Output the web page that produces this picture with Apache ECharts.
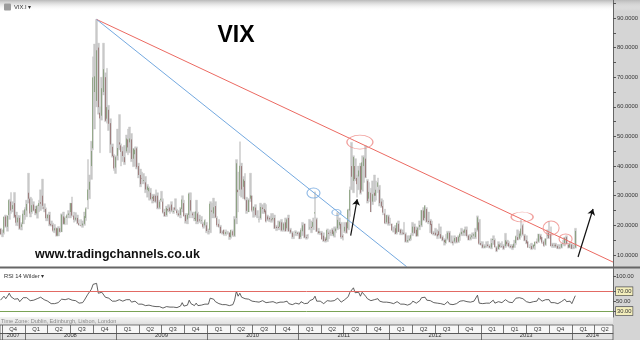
<!DOCTYPE html>
<html><head><meta charset="utf-8">
<script src="https://cdn.jsdelivr.net/npm/echarts@6/dist/echarts.min.js"></script>
<style>html,body{margin:0;padding:0;background:#fff}#c{width:640px;height:340px}</style>
</head><body><div id="c"></div><script>
// ---- weekly candles [open, high, low, close] ----
const firstWeek = '2007-09-25';
const ohlc2007 = [[18.8,19.0,16.8,17.0],[17.0,18.5,16.1,17.0],[17.5,22.9,17.0,22.9],[23.0,23.5,19.3,19.6],[19.5,23.3,18.0,23.2],[23.5,28.8,22.0,28.5],[28.0,31.1,24.0,25.0],[25.5,28.0,24.5,26.8],[27.5,31.1,22.5,22.9],[23.5,24.5,19.9,20.9],[21.0,23.3,19.8,22.6],[22.5,23.3,18.6,18.9],[19.5,20.9,18.4,20.3],[20.5,25.0,20.5,23.9]];
const ohlc2008 = [[23.5,26.0,22.0,25.4],[25.0,28.5,22.9,27.2],[31.0,37.6,27.5,29.0],[29.0,29.5,22.8,24.0],[24.5,29.0,24.0,26.8],[27.0,28.0,24.8,25.0],[25.5,26.5,23.5,24.1],[24.0,26.8,22.4,26.5],[26.5,28.5,24.5,27.5],[27.8,32.0,25.0,27.3],[30.0,35.6,25.5,26.6],[26.0,27.3,24.5,25.7],[25.5,25.9,21.5,22.4],[22.4,23.8,21.5,23.5],[23.5,24.5,19.8,20.3],[20.5,21.5,19.7,20.0],[20.2,20.8,17.8,18.2],[18.3,20.3,17.5,19.0],[19.0,19.2,16.3,16.5],[16.5,19.6,16.4,19.0],[19.0,19.1,17.6,17.8],[17.8,23.9,17.8,23.6],[23.0,24.5,20.3,20.5],[20.5,23.0,20.2,22.6],[22.5,23.8,20.3,23.4],[23.5,25.0,22.5,24.0],[24.5,27.5,22.5,27.5],[27.5,29.6,23.0,23.3],[23.3,24.5,21.0,21.9],[21.9,24.3,21.4,22.6],[22.5,23.5,20.5,20.7],[20.7,21.9,19.9,20.1],[20.0,22.0,19.7,19.8],[20.0,21.5,19.3,20.6],[20.5,24.5,20.0,23.1],[22.5,26.0,21.6,25.7],[28.5,42.2,25.5,32.1],[32.0,37.0,29.0,34.7],[40.0,48.4,35.5,45.1],[46.0,76.9,45.5,69.95],[65.0,81.2,52.5,70.3],[62.0,89.5,60.0,79.1],[80.0,81.5,57.5,59.9],[58.0,60.0,44.5,56.1],[57.0,70.0,55.5,66.3],[65.0,81.5,64.0,72.7],[70.0,71.5,55.0,55.3],[56.0,73.0,54.5,59.9],[59.0,60.5,52.0,54.3],[54.5,56.0,44.5,47.3],[46.5,47.5,43.0,43.4],[43.5,44.0,38.5,39.2]];
const ohlc2009 = [[39.5,43.5,37.5,43.0],[43.5,52.5,42.0,46.1],[48.0,57.4,45.5,47.3],[47.0,47.5,40.0,44.8],[45.0,46.5,41.5,43.4],[43.0,47.0,40.5,41.3],[45.0,50.5,44.5,49.3],[49.0,52.5,43.8,46.3],[48.0,53.2,44.5,49.3],[49.0,51.0,41.5,42.4],[42.5,46.0,39.8,45.9],[44.0,46.5,40.0,45.5],[46.0,46.5,39.0,39.6],[40.0,41.0,36.0,37.0],[37.0,39.0,33.0,33.9],[36.0,38.0,34.0,35.8],[35.0,37.5,34.0,35.3],[34.5,36.5,31.0,32.1],[32.0,33.8,29.5,33.1],[31.5,33.0,28.5,32.6],[31.0,32.5,28.5,28.9],[29.0,30.5,27.5,29.6],[30.0,30.5,27.8,28.2],[30.0,32.0,27.5,28.0],[30.0,31.0,25.5,25.9],[26.0,28.5,25.5,27.95],[28.5,31.5,28.0,29.0],[28.0,29.0,24.0,24.3],[24.5,25.5,23.0,23.1],[23.5,26.5,23.0,25.9],[25.5,27.0,24.5,25.0],[26.0,26.5,24.0,24.8],[27.0,28.0,24.5,25.0],[24.5,26.0,24.0,24.8],[26.0,29.0,25.0,25.3],[25.0,25.5,23.5,24.1],[24.0,25.0,23.0,23.4],[23.5,26.0,22.5,25.6],[25.5,30.0,24.5,28.7],[27.5,28.5,23.0,23.1],[23.5,24.0,20.7,21.4],[22.0,24.0,20.5,23.6],[23.5,31.0,22.5,30.7],[28.5,31.0,24.5,25.0],[24.0,24.5,22.5,23.4],[22.5,24.5,21.5,22.2],[21.5,28.5,20.5,24.7],[24.0,24.5,20.5,21.25],[22.0,23.5,21.0,21.6],[21.5,23.0,20.5,21.7],[20.5,21.0,19.0,19.5],[20.0,22.0,19.5,21.7]];
const ohlc2010 = [[20.0,21.0,17.5,18.1],[18.0,18.8,17.0,17.9],[18.5,28.0,17.5,27.3],[25.0,27.5,22.5,24.6],[24.0,29.2,22.5,26.1],[26.5,28.0,22.5,22.7],[22.5,23.0,19.5,20.0],[20.5,22.0,19.2,19.5],[19.5,20.0,17.3,17.4],[17.8,18.2,17.0,17.6],[18.5,18.5,16.5,16.97],[17.0,18.5,16.5,17.8],[17.5,18.0,17.0,17.5],[17.5,17.6,15.2,16.1],[16.0,18.5,15.6,18.4],[18.0,18.5,16.2,16.6],[16.5,23.0,16.2,22.05],[22.5,42.2,20.5,40.95],[32.0,38.0,24.5,31.2],[32.0,48.2,30.0,40.1],[40.0,41.0,29.5,32.1],[33.0,36.5,29.0,35.5],[35.0,37.5,28.5,28.8],[28.5,29.5,24.0,24.9],[24.5,29.0,24.5,28.5],[29.0,37.6,28.0,30.1],[30.0,30.0,24.5,24.98],[25.0,26.3,22.7,26.25],[26.0,27.0,23.0,23.5],[23.5,25.0,22.5,23.5],[22.0,23.0,21.0,22.1],[22.5,27.5,22.0,26.2],[26.0,27.0,24.0,25.5],[25.5,27.5,24.0,24.45],[25.0,27.0,21.0,21.3],[23.0,23.5,21.5,21.99],[22.5,23.0,21.2,22.0],[22.0,24.0,21.0,21.7],[22.0,24.0,21.5,22.5],[22.5,23.5,18.9,18.96],[19.5,20.0,18.2,19.1],[19.5,21.5,18.5,19.1],[19.5,21.5,18.5,21.2],[21.0,22.0,18.0,18.3],[18.5,21.0,18.0,20.6],[21.0,22.5,18.0,18.0],[19.0,22.5,18.5,22.0],[22.5,23.5,17.9,18.0],[18.5,19.0,17.2,17.6],[17.5,17.9,15.5,16.1],[16.5,17.0,15.5,16.5],[17.5,18.2,16.5,17.75]];
const ohlc2011 = [[17.5,17.8,16.5,17.1],[17.5,17.8,15.4,15.5],[16.0,19.0,15.5,18.5],[18.0,21.0,16.5,20.0],[20.5,20.5,15.7,15.9],[16.0,16.8,15.3,15.7],[16.5,17.0,15.6,16.4],[19.0,22.0,18.5,19.2],[19.5,21.5,17.5,19.1],[19.5,22.5,18.5,21.1],[24.0,31.3,22.5,24.4],[22.0,22.5,17.9,17.9],[18.0,19.0,17.0,17.4],[17.5,18.0,16.8,17.9],[17.5,18.0,15.2,15.3],[16.5,17.5,14.5,14.7],[15.5,16.0,14.3,14.75],[15.0,18.8,14.5,18.4],[17.5,18.0,15.5,17.1],[17.5,18.5,16.5,17.4],[18.5,19.0,16.5,17.1],[16.5,19.5,16.0,17.95],[18.0,19.5,17.5,18.9],[19.0,24.3,18.5,21.85],[20.0,22.5,18.8,21.1],[20.5,21.0,15.5,16.0],[16.5,17.0,15.0,15.95],[18.0,21.0,17.5,19.5],[21.0,21.0,17.3,17.5],[19.0,25.5,18.5,25.25],[25.0,33.0,23.0,32.0],[40.0,48.0,32.0,36.4],[35.0,43.5,31.0,43.05],[40.0,42.5,35.0,35.6],[36.0,37.0,29.5,33.9],[36.5,40.0,32.0,38.5],[40.0,41.0,30.5,30.98],[32.0,43.5,31.5,41.25],[40.0,43.5,34.5,42.96],[42.5,46.9,36.0,36.2],[35.0,35.5,27.5,28.2],[29.0,34.5,28.0,31.3],[31.0,32.5,24.5,24.5],[28.0,35.0,27.0,30.5],[31.0,37.0,28.0,30.0],[30.0,35.0,28.5,32.0],[33.0,36.0,31.0,34.5],[32.0,33.5,26.5,27.5],[28.0,29.0,26.0,26.4],[26.5,28.5,23.5,24.3],[24.0,25.5,20.5,20.7],[21.0,23.5,20.5,23.4]];
const ohlc2012 = [[23.0,23.5,20.0,20.6],[21.0,22.5,20.0,20.9],[20.5,20.5,18.2,18.3],[18.5,19.5,17.7,18.5],[19.0,20.0,17.0,17.1],[17.5,20.9,17.0,20.8],[20.5,21.5,17.8,17.8],[18.5,18.8,16.8,17.3],[17.5,18.5,16.8,17.3],[17.5,21.0,17.0,17.1],[17.0,17.5,14.3,14.5],[14.5,16.5,14.2,15.0],[15.0,16.5,14.7,15.5],[15.5,17.2,15.0,16.7],[17.5,21.0,16.5,19.55],[19.5,20.5,17.2,17.4],[18.5,19.5,16.3,16.3],[16.5,19.3,16.3,19.2],[19.5,21.5,18.5,20.1],[20.0,25.1,19.5,25.1],[25.0,26.0,21.5,21.8],[22.5,26.7,22.0,26.7],[25.5,26.0,21.0,21.2],[21.5,24.5,20.5,21.1],[21.5,22.0,17.5,20.1],[20.5,21.5,17.0,17.1],[17.5,18.0,16.7,17.1],[17.5,19.0,16.5,16.7],[17.0,18.5,15.5,16.3],[18.0,20.5,16.5,16.7],[17.0,19.5,15.6,15.6],[16.0,16.5,14.7,15.0],[15.0,15.5,13.3,14.3],[14.0,17.0,13.9,15.2],[15.5,18.0,15.0,17.5],[17.5,18.0,14.3,14.4],[14.5,16.5,14.0,14.5],[14.5,15.0,13.3,13.98],[14.5,16.5,14.0,15.7],[16.0,16.0,14.0,14.3],[14.5,16.5,14.2,16.1],[16.0,17.5,14.9,17.1],[17.0,19.0,16.5,17.8],[18.0,18.5,16.5,17.6],[17.5,19.5,16.5,18.6],[18.5,19.5,16.0,16.4],[16.5,16.8,15.0,15.1],[15.5,17.0,15.0,15.9],[16.0,17.5,15.5,16.6],[16.5,17.5,15.5,17.0],[16.0,19.0,15.5,17.8],[18.5,23.2,18.0,22.7],[21.0,22.0,13.5,13.8]];
const ohlc2013 = [[14.0,14.5,13.2,13.4],[13.5,14.5,12.3,12.5],[12.5,13.5,12.3,12.9],[13.0,14.5,12.5,12.9],[13.5,14.6,12.8,13.0],[13.0,13.5,12.3,12.5],[12.5,15.5,12.0,14.0],[15.0,16.5,13.5,15.4],[15.0,15.5,12.6,12.6],[12.5,12.9,11.1,11.3],[12.0,14.5,11.8,13.6],[13.5,14.0,12.5,12.7],[13.0,14.5,12.5,12.8],[13.0,13.5,11.8,12.1],[13.0,17.3,12.5,14.97],[14.5,15.0,13.0,13.6],[14.0,14.5,12.6,12.9],[13.0,13.5,12.3,12.6],[13.0,13.5,11.8,12.45],[12.5,15.0,12.5,13.8],[14.0,16.5,13.5,16.3],[16.0,18.5,15.0,15.1],[15.5,18.0,15.2,17.2],[16.5,21.9,16.0,18.9],[20.0,20.5,16.5,16.9],[16.5,17.0,14.7,14.9],[15.0,16.5,13.7,14.0],[14.5,14.5,12.5,12.5],[12.5,13.5,12.3,12.7],[13.0,14.0,11.8,11.98],[12.5,13.5,12.0,13.4],[13.0,14.5,11.8,14.4],[14.5,15.5,13.8,14.0],[14.5,17.1,14.2,17.0],[16.5,17.0,15.0,15.4],[16.0,16.0,13.8,14.2],[14.5,14.9,12.8,13.1],[13.5,15.5,13.2,15.5],[16.5,18.5,15.5,16.7],[17.5,21.3,15.5,15.7],[17.0,19.5,12.9,13.0],[13.5,14.0,12.5,13.1],[13.0,14.0,12.5,13.2],[13.5,14.0,12.5,12.9],[13.0,13.5,12.1,12.2],[12.5,13.5,12.0,12.3],[12.5,13.8,12.3,13.7],[14.0,15.0,13.5,13.8],[14.0,16.0,13.0,15.8],[16.0,16.5,13.7,13.8],[13.5,13.5,12.3,12.5],[12.5,14.2,12.5,13.8]];
const ohlc2014 = [[13.5,13.8,12.0,12.1],[12.5,13.5,12.0,12.4],[12.5,19.0,12.3,18.1]];

// ---- RSI 14 (Wilder), weekly ----
const rsi2007 = [52,52,60,55,60,66,59,61,54,51,55,49,52,57];
const rsi2008 = [55,57,58,51,54,52,51,55,57,58,56,53,49,50,46,45,43,45,42,47,45,54,50,53,54,55,58,52,50,51,47,46,45,47,52,56,64,66,74,84,84,86,66,63,68,70,58,61,56,52,50,47];
const rsi2009 = [50,52,53,51,50,49,53,51,53,48,51,50,46,44,42,44,43,41,42,42,39,40,39,39,37,39,41,36,35,39,38,38,38,38,39,37,37,40,47,40,38,42,52,45,43,41,46,41,42,42,39,44];
const rsi2010 = [44,44,56,52,54,49,46,45,42,43,42,43,43,41,45,43,52,70,60,66,58,61,55,51,54,56,50,52,49,49,48,52,51,50,47,48,48,48,49,45,46,46,48,45,48,45,50,45,45,43,44,46];
const rsi2011 = [46,44,49,51,45,45,46,51,51,54,60,50,49,50,46,45,45,51,49,50,49,51,52,56,55,48,48,53,50,59,68,72,77,67,65,68,60,68,68,60,55,56,51,54,53,54,55,50,49,48,46,48];
const rsi2012 = [47,47,45,45,44,49,45,44,44,44,41,42,43,45,50,47,46,50,51,57,53,58,52,52,51,47,47,47,46,47,45,44,43,45,49,44,44,43,47,45,48,50,51,51,53,49,47,48,50,50,52,62,46];
const rsi2013 = [46,45,46,46,47,46,50,52,46,43,49,47,47,46,53,50,48,48,47,51,56,54,57,60,55,51,49,46,47,45,49,51,50,56,53,50,48,53,55,53,47,47,47,47,45,46,49,50,54,49,46,50];
const rsi2014 = [45,46,61];

// ---- axis labels ----
const quarterLabels = ['Q4','Q1','Q2','Q3','Q4','Q1','Q2','Q3','Q4','Q1','Q2','Q3','Q4','Q1','Q2','Q3','Q4','Q1','Q2','Q3','Q4','Q1','Q1','Q3','Q4','Q1','Q2'];
const quarterStarts = ['2007-10-01','2008-01-01','2008-04-01','2008-07-01','2008-10-01','2009-01-01','2009-04-01','2009-07-01','2009-10-01','2010-01-01','2010-04-01','2010-07-01','2010-10-01','2011-01-01','2011-04-01','2011-07-01','2011-10-01','2012-01-01','2012-04-01','2012-07-01','2012-10-01','2013-01-01','2013-04-01','2013-07-01','2013-10-01','2014-01-01','2014-04-01'];
const quarterMids = ['2007-11-15','2008-02-15','2008-05-16','2008-08-16','2008-11-15','2009-02-15','2009-05-16','2009-08-16','2009-11-15','2010-02-15','2010-05-16','2010-08-16','2010-11-15','2011-02-15','2011-05-16','2011-08-16','2011-11-15','2012-02-15','2012-05-16','2012-08-16','2012-11-15','2013-02-15','2013-05-16','2013-08-16','2013-11-15','2014-02-15','2014-05-12'];
const yearLabels = ['2007','2008','2009','2010','2011','2012','2013','2014'];
const yearStarts = ['2007-10-01','2008-01-01','2009-01-01','2010-01-01','2011-01-01','2012-01-01','2013-01-01','2014-01-01'];
const yearMids = ['2007-11-15','2008-07-01','2009-07-01','2010-07-01','2011-07-01','2012-07-01','2013-07-01','2014-03-24'];
const priceLabels = [10,20,30,40,50,60,70,80,90];
const priceTicks = [10,15,20,25,30,35,40,45,50,55,60,65,70,75,80,85,90,95];
const rsiLabels = [100,70,50,30];
const rsiBoxed = [70,30];
const rsiLevels = [70,30];

// ---- drawn annotations (date, value) ----
const trendLines = [
  {from:['2008-10-14',89.5], to:['2014-06-14',7.6], color:'#ec6a62'},
  {from:['2008-10-14',89.5], to:['2012-03-09',6.05], color:'#74a9e0'}
];
const arrows = [
  {from:['2011-07-29',16.5], to:['2011-08-24',28.8]},
  {from:['2014-01-25',9.3], to:['2014-03-26',25.5]}
];
const ellipses = [
  {at:['2011-09-04',48.1], w:26, h:14, color:'#ee8a86'},
  {at:['2013-06-15',22.8], w:22, h:10, color:'#ee8a86'},
  {at:['2013-10-09',19.1], w:16, h:14, color:'#ee8a86'},
  {at:['2013-12-06',15.4], w:13, h:10, color:'#ee8a86'},
  {at:['2011-03-02',30.9], w:13, h:10, color:'#74a9e0'},
  {at:['2011-06-02',24.35], w:9, h:6, color:'#74a9e0'}
];

const DAY = 864e5;
// dates are turned into day numbers; the x axes are numeric day scales
const dnum = s => Date.parse(s + 'T00:00:00Z') / DAY;
const xMin = dnum('2007-09-23'), xMax = dnum('2014-06-14');
const allOhlc = [].concat(ohlc2007, ohlc2008, ohlc2009, ohlc2010, ohlc2011, ohlc2012, ohlc2013, ohlc2014);
const allRsi = [].concat(rsi2007, rsi2008, rsi2009, rsi2010, rsi2011, rsi2012, rsi2013, rsi2014);
const d0 = dnum(firstWeek);
const weekDays = allOhlc.map((_, i) => d0 + i * 7);

const rangeData = allOhlc.map((d, i) => [weekDays[i], d[2], d[1], d[2], d[1]]);
const bodyData = allOhlc.map((d, i) => [weekDays[i], d[0], d[3], Math.min(d[0], d[3]), Math.max(d[0], d[3])]);
const rsiData = allRsi.map((v, i) => [weekDays[i], v]);

const qMid = quarterMids.map(dnum), yMid = yearMids.map(dnum);
const FONT = 'Liberation Sans';

const lineMarks = trendLines.map(l => [
  {coord:[dnum(l.from[0]), l.from[1]], symbol:'none', lineStyle:{color:l.color, width:1, type:'solid'}},
  {coord:[dnum(l.to[0]), l.to[1]], symbol:'none'}
]).concat(arrows.map(a => [
  {coord:[dnum(a.from[0]), a.from[1]], symbol:'none', lineStyle:{color:'#111', width:1.2, type:'solid'}},
  {coord:[dnum(a.to[0]), a.to[1]], symbol:'arrow', symbolSize:6}
]));

const chart = echarts.init(document.getElementById('c'), null, {renderer:'canvas'});
const rowAxis = (gi, tickVals, labelVals, fmt, h) => ({
  type:'value', gridIndex:gi, min:xMin, max:xMax, position:'bottom', scale:true,
  axisLine:{show:true, lineStyle:{color:'#555', width:0.8}},
  axisTick:{show:true, inside:true, length:h, customValues:tickVals.map(dnum), lineStyle:{color:'#555', width:0.8}},
  axisLabel:{show:true, inside:true, margin:1.5, customValues:labelVals, formatter:fmt, fontSize:5.8, color:'#333', fontFamily:FONT, hideOverlap:false, showMinLabel:true, showMaxLabel:true},
  splitLine:{show:false}
});

chart.setOption({
  animation:false,
  backgroundColor:'#ffffff',
  grid:[
    {left:0, width:613, top:0.2, height:266.6, outerBoundsMode:'none'},
    {left:0, width:613, top:268.5, height:48.5, outerBoundsMode:'none'},
    {left:0, width:613, top:325, height:8.5, outerBoundsMode:'none', show:true, backgroundColor:'#f7f7f7', borderColor:'#555', borderWidth:0.8},
    {left:0, width:613, top:333.5, height:6.5, outerBoundsMode:'none', show:true, backgroundColor:'#e2e2e2', borderColor:'#555', borderWidth:0.8}
  ],
  xAxis:[
    {type:'value', gridIndex:0, min:xMin, max:xMax, scale:true, show:false},
    {type:'value', gridIndex:1, min:xMin, max:xMax, scale:true, show:false},
    rowAxis(2, quarterStarts, qMid, v => quarterLabels[qMid.indexOf(v)] || '', 8.5),
    rowAxis(3, yearStarts, yMid, v => yearLabels[yMid.indexOf(v)] || '', 6.5)
  ],
  yAxis:[
    {type:'value', gridIndex:0, min:6, max:96, position:'right',
     axisLine:{show:true, lineStyle:{color:'#666', width:1}},
     axisTick:{show:true, length:3, customValues:priceTicks, lineStyle:{color:'#555'}},
     axisLabel:{show:true, margin:4, customValues:priceLabels, formatter:v => v.toFixed(4), fontSize:5.8, color:'#333', fontFamily:FONT},
     splitLine:{show:false}},
    {type:'value', gridIndex:1, min:18, max:116, position:'right',
     axisLine:{show:true, lineStyle:{color:'#666', width:1}},
     axisTick:{show:true, length:3, customValues:rsiLabels, lineStyle:{color:'#555'}},
     axisLabel:{show:true, margin:3, customValues:rsiLabels, fontSize:5.8, color:'#333', fontFamily:FONT,
       formatter:v => rsiBoxed.indexOf(v) >= 0 ? '{b|' + v.toFixed(2) + '}' : v.toFixed(2),
       rich:{b:{backgroundColor:'#f3eebc', borderColor:'#555', borderWidth:0.7, padding:[1.5,1,0.5,1], fontSize:5.8, color:'#333', fontFamily:FONT}}},
     splitLine:{show:false}},
    {type:'value', gridIndex:2, show:false},
    {type:'value', gridIndex:3, show:false}
  ],
  series:[
    {type:'candlestick', name:'range', xAxisIndex:0, yAxisIndex:0, data:rangeData, encode:{x:0, y:[1,2,3,4]},
     barWidth:2.2, silent:true, z:2,
     itemStyle:{color:'#c8c8c8', color0:'#c8c8c8', borderColor:'#c8c8c8', borderColor0:'#c8c8c8', borderWidth:0.4}},
    {type:'candlestick', name:'VIX.I', xAxisIndex:0, yAxisIndex:0, data:bodyData, encode:{x:0, y:[1,2,3,4]},
     barWidth:1.3, silent:true, z:3,
     itemStyle:{color:'#4f9228', color0:'#8a1414', borderColor:'#336619', borderColor0:'#5a0c0c', borderWidth:0.4}},
    {type:'scatter', name:'notes', xAxisIndex:0, yAxisIndex:0, z:5, silent:true,
     data:ellipses.map(e => ({value:[dnum(e.at[0]), e.at[1]], symbolSize:[e.w, e.h],
       itemStyle:{color:'rgba(0,0,0,0)', borderColor:e.color, borderWidth:1}})),
     symbol:'circle',
     markLine:{silent:true, animation:false, symbol:['none','none'], label:{show:false}, data:lineMarks}},
    {type:'line', name:'RSI', xAxisIndex:1, yAxisIndex:1, data:rsiData, symbol:'none', z:3,
     lineStyle:{color:'#3a3a3a', width:0.8},
     markLine:{silent:true, animation:false, symbol:['none','none'], label:{show:false},
       data:rsiLevels.map((v, i) => ({yAxis:v, lineStyle:{color:i === 0 ? '#e26a64' : '#7aa356', width:1, type:'solid'}}))}}
  ],
  graphic:[
    {type:'rect', z:-1, shape:{x:613, y:0, width:27, height:340}, style:{fill:'#d5d5d5'}},
    {type:'rect', z:-1, shape:{x:0, y:0, width:640, height:11},
     style:{fill:new echarts.graphic.LinearGradient(0,0,0,1,[{offset:0,color:'#b9b9b9'},{offset:1,color:'rgba(255,255,255,0)'}])}},
    {type:'rect', z:-1, shape:{x:0, y:317, width:613, height:8},
     style:{fill:new echarts.graphic.LinearGradient(0,0,0,1,[{offset:0,color:'#f4f4f4'},{offset:1,color:'#dedede'}])}},
    {type:'rect', z:20, shape:{x:0, y:266.6, width:640, height:2}, style:{fill:'#666'}},
    {type:'rect', z:20, shape:{x:4, y:3.5, width:7, height:7, r:1}, style:{fill:'#9c9c9c'}},
    {type:'text', z:20, x:14, y:7, style:{text:'VIX.I ▾', fill:'#333', font:'5.8px "Liberation Sans"', verticalAlign:'middle'}},
    {type:'text', z:20, x:4, y:276, style:{text:'RSI 14 Wilder ▾', fill:'#333', font:'5.8px "Liberation Sans"', verticalAlign:'middle'}},
    {type:'text', z:20, x:1, y:321.5, style:{text:'Time Zone: Dublin, Edinburgh, Lisbon, London', fill:'#8a8a8a', font:'5.6px "Liberation Sans"', verticalAlign:'middle'}},
    {type:'text', z:20, x:236, y:36, style:{text:'VIX', fill:'#000', font:'bold 23px "Liberation Sans"', align:'center', verticalAlign:'middle'}},
    {type:'text', z:20, x:35, y:255, style:{text:'www.tradingchannels.co.uk', fill:'#111', font:'bold 12.5px "Liberation Sans"', verticalAlign:'middle'}}
  ]
});
</script></body></html>
